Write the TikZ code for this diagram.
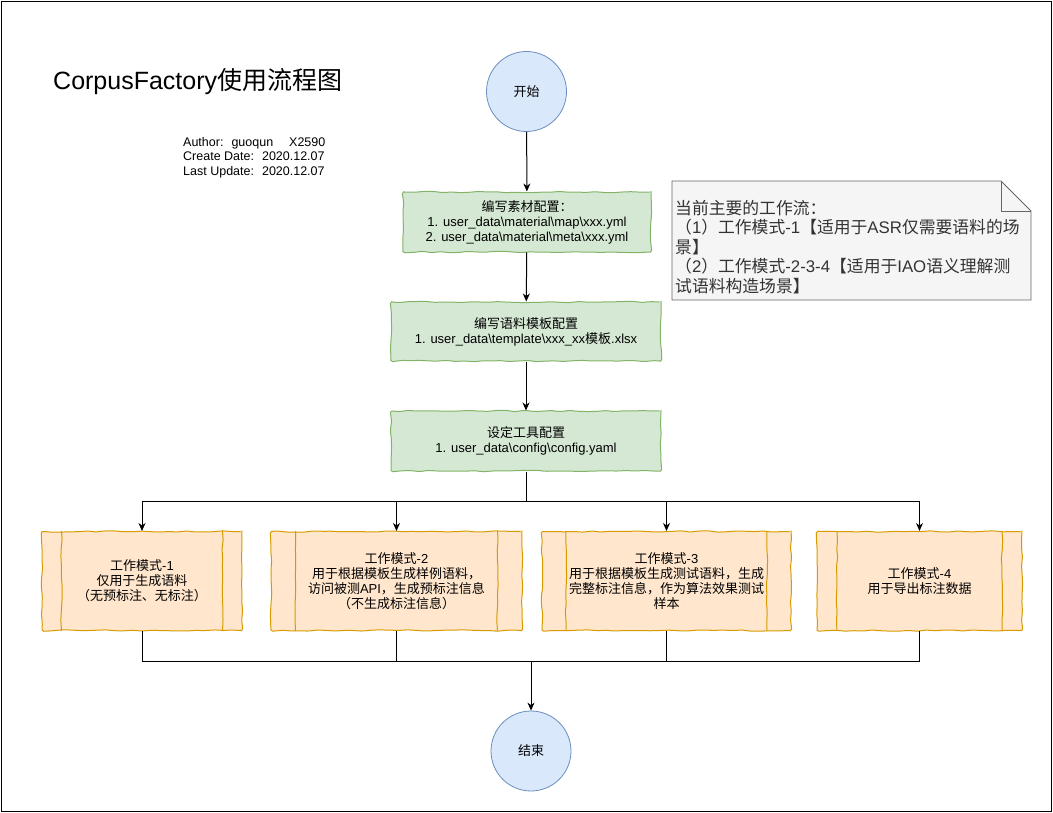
\documentclass[tikz,border=0pt]{standalone}
\usepackage{fontspec}
\setmainfont{Liberation Sans}
\newfontfamily\latinfont{Liberation Sans}
\newfontfamily\cjkfont{Noto Sans CJK SC}
\usetikzlibrary{arrows.meta,decorations.pathmorphing,calc}
\XeTeXinterchartokenstate=1
\newXeTeXintercharclass\cjkclass
\newcount\cjkcc
\def\setcjkrange#1#2{\cjkcc=#1 \loop \XeTeXcharclass\cjkcc=\cjkclass \ifnum\cjkcc<#2 \advance\cjkcc by 1 \repeat}
\setcjkrange{"3000}{"303F}
\setcjkrange{"4E00}{"9FFF}
\setcjkrange{"FF00}{"FFEF}
\XeTeXinterchartoks 0 \cjkclass = {\cjkfont}
\XeTeXinterchartoks 4095 \cjkclass = {\cjkfont}
\XeTeXinterchartoks \cjkclass 0 = {\latinfont}
\XeTeXinterchartoks 4095 0 = {\latinfont}
\definecolor{gfill}{HTML}{D5E8D4}
\definecolor{gline}{HTML}{82B366}
\definecolor{ofill}{HTML}{FFE6CC}
\definecolor{oline}{HTML}{D79B00}
\definecolor{bfill}{HTML}{DAE8FC}
\definecolor{bline}{HTML}{6C8EBF}
\definecolor{nfill}{HTML}{F5F5F5}
\definecolor{nline}{HTML}{666666}
\definecolor{ntext}{HTML}{333333}
\begin{document}
\begin{tikzpicture}[x=1pt,y=-1pt,
  sketch/.style={decorate,decoration={random steps,segment length=9pt,amplitude=0.7pt},rounded corners=1.5pt},
  txt/.style={font=\fontsize{13}{15}\selectfont, align=center},
  circ/.style={circle, draw=bline, fill=bfill, line width=0.8pt, minimum size=80pt, inner sep=0pt, txt},
  gbox/.style={draw=gline, fill=gfill, line width=1pt, sketch, inner sep=0pt, txt},
  obox/.style={draw=oline, fill=ofill, line width=1pt, sketch, inner sep=0pt, minimum height=99pt, txt},
  oinner/.style={draw=oline, line width=1pt, sketch},
  conn/.style={line width=1pt, black},
  arr/.style={conn, -{Stealth[length=8pt,width=7pt,inset=2.5pt]}}
]
\pgfmathsetseed{7}
\useasboundingbox (0,0) rectangle (1053,813);
\draw[line width=1.5pt] (1.5,1.5) rectangle (1051.5,811.5);

\node[anchor=west, inner sep=0pt, font=\fontsize{25}{29}\selectfont] (title) at (53,82) {CorpusFactory使用流程图};
\node[anchor=west, inner sep=0pt, align=left, font=\fontsize{12.5}{14.5}\selectfont] (author) at (183,157.5)
  {Author:\hspace{8pt}guoqun\hspace{16pt}X2590\\Create Date:\hspace{8pt}2020.12.07\\Last Update:\hspace{8pt}2020.12.07};

\node[circ] (start) at (526.5,91.5) {开始};
\node[gbox, minimum width=248pt, minimum height=60pt] (b1) at (527,222)
  {编写素材配置：\\1. user\_data\textbackslash material\textbackslash map\textbackslash xxx.yml\\2. user\_data\textbackslash material\textbackslash meta\textbackslash xxx.yml};
\node[gbox, minimum width=270pt, minimum height=59pt] (b2) at (526,331.5)
  {编写语料模板配置\\1. user\_data\textbackslash template\textbackslash xxx\_xx模板.xlsx};
\node[gbox, minimum width=270pt, minimum height=60pt] (b3) at (526,441)
  {设定工具配置\\1. user\_data\textbackslash config\textbackslash config.yaml};

% note
\draw[draw=nline, fill=nfill, line width=0.8pt] (672,181) -- (1001,181) -- (1031,211) -- (1031,300) -- (672,300) -- cycle;
\draw[draw=nline, line width=0.8pt] (1001,181) -- (1001,211) -- (1031,211);
\node[anchor=west, align=left, text=ntext, inner sep=0pt, font=\fontsize{16.8}{19.5}\selectfont] (note) at (675,247)
  {当前主要的工作流：\\（1）工作模式-1【适用于ASR仅需要语料的场\\景】\\（2）工作模式-2-3-4【适用于IAO语义理解测\\试语料构造场景】};

\node[obox, minimum width=200pt] (pA) at (142,581) {工作模式-1\\仅用于生成语料\\（无预标注、无标注）};
\node[obox, minimum width=251pt] (pB) at (396.5,581) {工作模式-2\\用于根据模板生成样例语料，\\访问被测API，生成预标注信息\\（不生成标注信息）};
\node[obox, minimum width=249pt] (pC) at (666.5,581) {工作模式-3\\用于根据模板生成测试语料，生成\\完整标注信息，作为算法效果测试\\样本};
\node[obox, minimum width=205pt] (pD) at (919.5,581) {工作模式-4\\用于导出标注数据};
\foreach \n/\d in {pA/20,pB/25,pC/24.5,pD/20.5}{
  \draw[oinner] ([xshift=\d pt]\n.north west) -- ([xshift=\d pt]\n.south west);
  \draw[oinner] ([xshift=-\d pt]\n.north east) -- ([xshift=-\d pt]\n.south east);
}

\node[circ] (end) at (531,751) {结束};

\coordinate (split) at (526,501);
\coordinate (merge) at (531,661);

\draw[arr] (start) -- (b1);
\draw[arr] (b1) -- (b2);
\draw[arr] (b2) -- (b3);
\draw[conn] (b3.south) -- (split);
\foreach \n in {pA,pB,pC,pD}{
  \draw[arr] (split) -| (\n.north);
  \draw[conn] (\n.south) |- (merge);
}
\draw[arr] (merge) -- (end);
\end{tikzpicture}
\end{document}
